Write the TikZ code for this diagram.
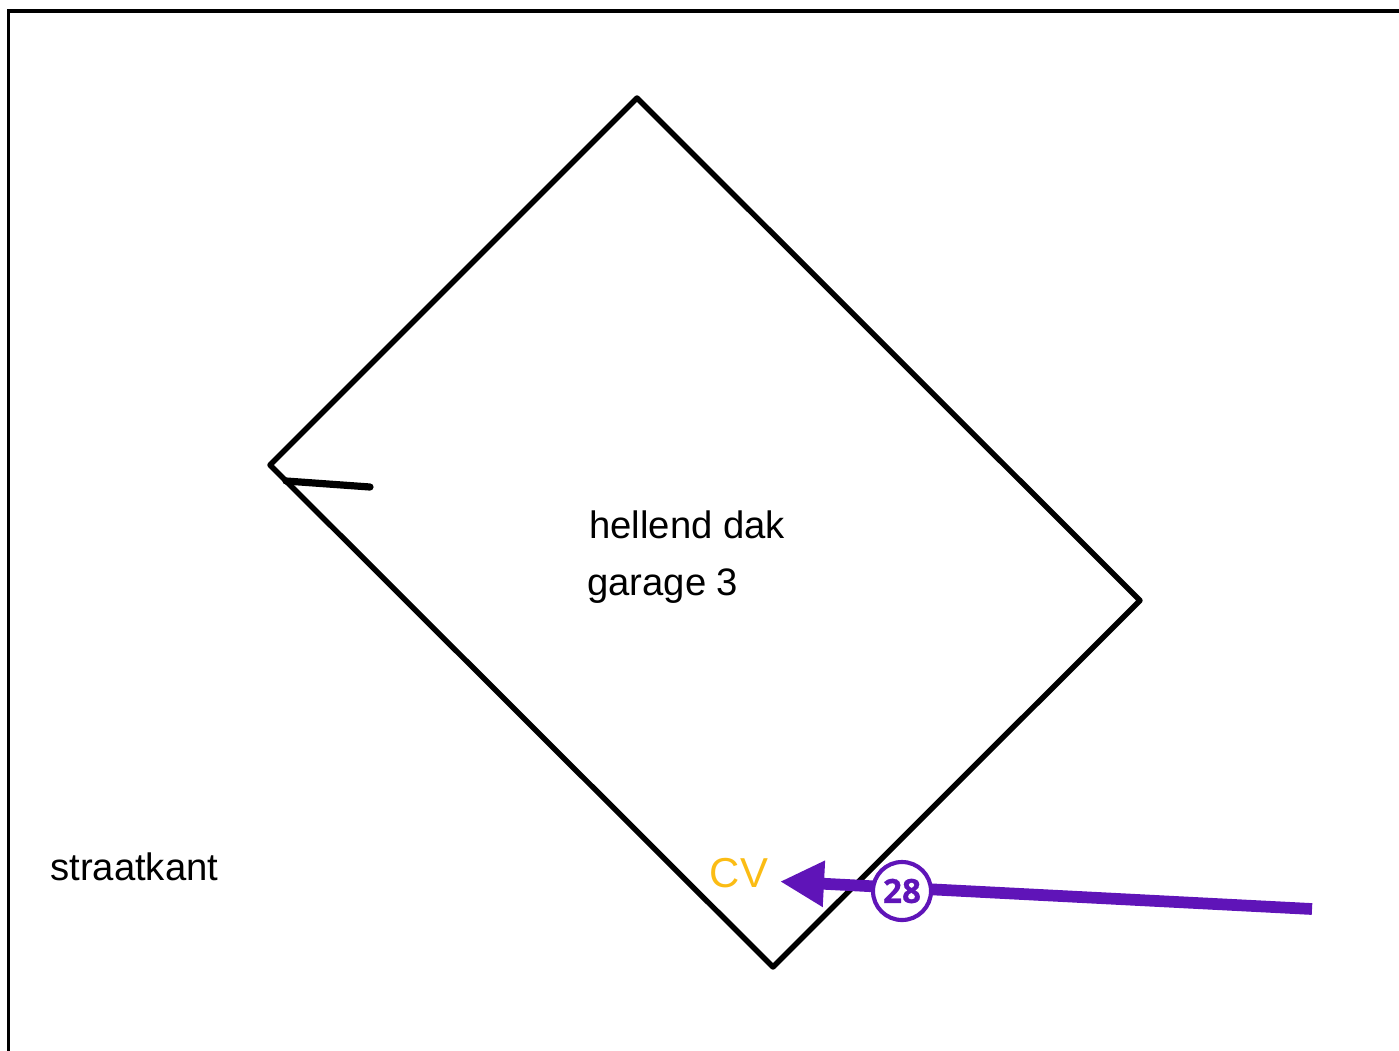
\documentclass[tikz,border=0pt]{standalone}
\usepackage{fontspec}
\setmainfont{Liberation Sans}
\newfontfamily\badgefont[BoldFeatures={FakeBold=0.6}]{Open Sans}
\usetikzlibrary{arrows.meta}
\definecolor{violetmark}{HTML}{5F14B8}
\definecolor{cvyellow}{HTML}{FBBC14}
\tikzset{
  px/.style={x=0.75pt,y=-0.75pt},
  outline/.style={draw=black,line width=4.1pt,line join=round},
  frameline/.style={draw=black,line width=2.7pt,line join=miter},
  tick/.style={draw=black,line width=5.4pt,line cap=round},
  label/.style={inner sep=0pt,anchor=base west,font=\fontsize{28.7pt}{34pt}\selectfont,text=black},
  cvlabel/.style={inner sep=0pt,anchor=base west,font=\fontsize{31.4pt}{36pt}\selectfont,text=cvyellow},
  markarrow/.style={draw=violetmark,line width=8.8pt,-{Triangle[length=33pt,width=32.5pt,fill=violetmark]}},
  badge/.style={circle,draw=violetmark,fill=white,line width=3.1pt,minimum size=43.5pt,inner sep=0pt,text=violetmark,font=\badgefont\bfseries\fontsize{25pt}{26pt}\selectfont},
}
\begin{document}
\begin{tikzpicture}[px]
\useasboundingbox (0,0) rectangle (1399,1050);
\draw[frameline] (8.5,1052) -- (8.5,11) -- (1401,11);
\coordinate (n) at (637,98);
\coordinate (e) at (1140,600.5);
\coordinate (s) at (773,967);
\coordinate (w) at (270,465);
\draw[outline] (n) -- (e) -- (s) -- (w) -- cycle;
\coordinate (tickA) at (286,481);
\coordinate (tickB) at (370,487);
\draw[tick] (tickA) -- (tickB);
\node[label] (roof) at (589,538) {hellend dak};
\node[label] (garage) at (587,595) {garage 3};
\node[label] (street) at (50,880) {straatkant};
\node[cvlabel] (cv) at (709.5,887.5) {CV};
\coordinate (tail) at (1312,909);
\coordinate (tip) at (780,881.5);
\draw[markarrow] (tail) -- (tip);
\node[badge] (num) at (902,891) {28};
\end{tikzpicture}
\end{document}
